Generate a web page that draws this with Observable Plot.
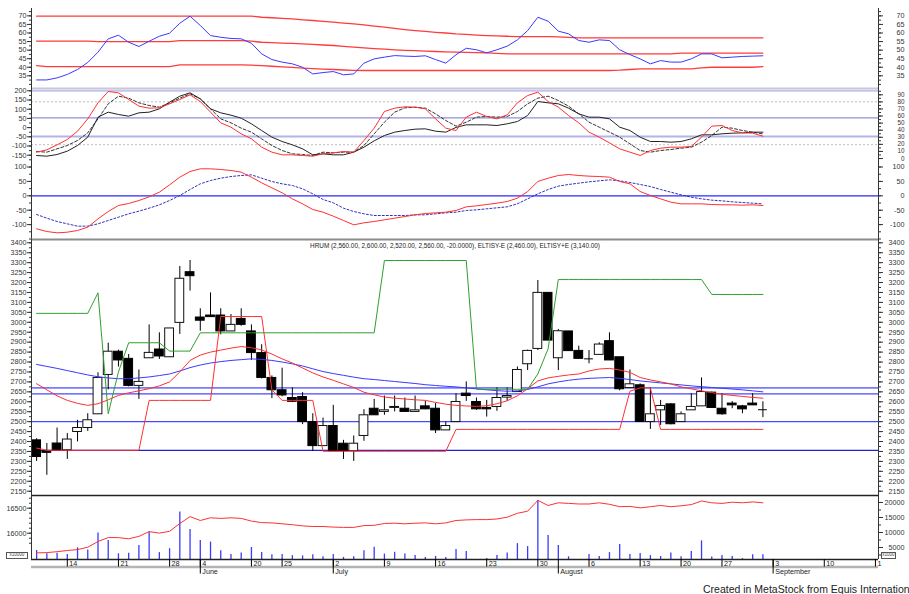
<!DOCTYPE html>
<html><head><meta charset="utf-8">
<script src="https://cdn.jsdelivr.net/npm/d3@7"></script>
<script src="https://cdn.jsdelivr.net/npm/@observablehq/plot@0.6"></script>
<style>
body{margin:0;background:#fff;}
#wrap{position:relative;width:909px;height:594px;overflow:hidden;background:#fff;font-family:"Liberation Sans",Arial,sans-serif;}
#wrap svg{position:absolute;left:0;}
.footer{position:absolute;left:703px;top:583px;font-size:10.5px;line-height:12px;color:#222;white-space:nowrap;}
.box{position:absolute;border:1px solid #555;font-size:4.5px;line-height:4px;color:#444;text-align:center;overflow:hidden;}
</style></head>
<body><div id="wrap"></div>
<script>
// ---------------- DATA ----------------
const open = [2406,2350,2390,2356,2448,2468,2537,2735,2852,2816,
2680,2819,2863,2824,2997,3252,3024,3034,3034,2954,
3017,2954,2845,2720,2658,2619,2624,2498,2377,2478,
2389,2351,2428,2565,2549,2569,2565,2549,2577,2565,
2456,2498,2641,2599,2569,2574,2621,2649,2789,2866,
3148,2819,2954,2856,2818,2836,2905,2824,2669,2683,
2498,2557,2587,2498,2557,2577,2646,2565,2591,2577,
2591,2560];
const high = [2414,2390,2468,2440,2507,2540,2746,2895,2860,2838,
2760,2987,2947,2969,3281,3311,3068,3148,3068,3039,
3068,2987,2887,2730,2769,2670,2646,2540,2518,2582,
2406,2428,2560,2612,2629,2629,2619,2629,2602,2591,
2498,2641,2700,2619,2607,2670,2670,2775,2860,3210,
3150,2964,2954,2880,2858,2897,2947,2824,2760,2690,
2670,2607,2590,2549,2641,2720,2649,2641,2601,2582,
2641,2600];
const low = [2300,2230,2355,2310,2398,2451,2537,2660,2775,2675,
2612,2819,2813,2824,2939,3157,2955,3026,2937,2954,
2980,2808,2715,2616,2625,2596,2485,2351,2377,2351,
2310,2300,2401,2532,2532,2549,2549,2549,2560,2440,
2456,2498,2602,2557,2523,2552,2602,2649,2757,2858,
2908,2757,2855,2816,2791,2836,2808,2655,2669,2498,
2461,2481,2484,2498,2557,2577,2569,2532,2565,2540,
2582,2520];
const close = [2322,2343,2355,2410,2468,2507,2720,2852,2808,2680,
2700,2846,2828,2969,3219,3232,3008,3026,2954,2987,
2987,2845,2720,2658,2632,2600,2498,2377,2478,2351,
2351,2389,2532,2532,2557,2574,2549,2557,2562,2456,
2478,2599,2629,2562,2562,2619,2629,2760,2856,3148,
2908,2955,2855,2816,2816,2888,2808,2663,2688,2498,
2537,2579,2487,2537,2574,2649,2569,2537,2582,2562,
2582,2560];
const eltisyPlus = [3045,3045,3045,3045,3045,3045,3148,2540,2750,2897,
2897,2897,2897,2855,2855,2855,2947,2947,2947,2947,
2947,2947,2947,2947,2947,2947,2947,2947,2947,2947,
2947,2947,2947,2947,3311,3311,3311,3311,3311,3311,
3311,3311,3311,2663,2663,2663,2663,2663,2663,2740,
2866,3215,3215,3215,3215,3215,3215,3215,3215,3215,
3215,3215,3215,3215,3215,3215,3140,3140,3140,3140,
3140,3140];
const eltisyMinus = [2367,2356,2356,2356,2356,2356,2356,2356,2356,2356,
2356,2607,2607,2607,2607,2607,2607,2607,3029,3029,
3029,3029,3029,2660,2607,2607,2607,2607,2351,2351,
2351,2351,2351,2351,2351,2351,2351,2351,2351,2351,
2351,2461,2461,2461,2461,2461,2461,2461,2461,2461,
2461,2461,2461,2461,2461,2461,2461,2461,2653,2670,
2670,2461,2461,2461,2461,2461,2461,2461,2461,2461,
2461,2461];
const maShort = [2691,2660,2630,2607,2592,2582,2590,2610,2632,2645,
2655,2666,2680,2700,2750,2808,2835,2850,2860,2870,
2878,2872,2861,2840,2816,2795,2770,2745,2725,2708,
2690,2672,2648,2635,2624,2618,2614,2610,2607,2597,
2588,2582,2579,2577,2580,2590,2605,2630,2666,2705,
2720,2728,2735,2740,2755,2765,2768,2760,2748,2722,
2710,2700,2690,2675,2665,2655,2646,2638,2632,2627,
2622,2618];
const maLong = [2788,2778,2768,2757,2746,2735,2726,2720,2716,2716,
2720,2725,2732,2740,2755,2772,2785,2795,2802,2808,
2812,2816,2813,2808,2800,2791,2780,2766,2752,2742,
2733,2724,2716,2712,2707,2702,2697,2692,2686,2682,
2678,2675,2670,2665,2660,2656,2653,2655,2662,2675,
2690,2700,2708,2714,2718,2720,2722,2718,2712,2705,
2700,2695,2690,2685,2680,2676,2672,2668,2664,2660,
2655,2650];
const priceLevels = [2670, 2640, 2500, 2355];

const rsi = [32.6,32.6,33.8,35.8,38.7,42.8,48.8,56.6,58.7,54.6,
52.1,55.2,58.1,59.9,65.7,69.8,64.4,58.5,57.5,56.8,
56.6,54.0,47.8,44.5,43.0,42.0,40.0,36.1,36.9,37.5,
35.6,36.1,42.4,44.9,45.9,46.8,46.5,46.3,46.7,44.5,
42.4,47.3,51.1,50.2,48.4,50.2,52.3,56.0,61.4,69.2,
66.9,61.1,59.5,55.6,54.6,56.0,55.6,50.2,47.4,44.9,
42.0,43.9,43.0,43.0,44.9,47.8,47.8,45.5,45.9,46.3,
46.5,46.7];
const rsiUpper = [69.8,69.8,69.8,69.8,69.8,69.8,69.8,69.8,69.8,69.8,
69.8,69.8,69.8,69.8,69.8,69.8,69.8,69.8,69.8,69.8,
69.8,69.8,69.2,68.9,68.5,68.2,67.7,67.3,66.8,66.3,
65.8,65.3,64.7,64.0,63.4,62.7,62.0,61.4,60.9,60.4,
60.0,59.5,59.2,58.8,58.5,58.3,58.1,57.9,57.9,57.9,
57.9,57.7,57.4,57.2,57.2,57.2,57.2,57.2,57.2,57.2,
57.2,57.2,57.2,57.2,57.2,57.2,57.2,57.2,57.2,57.2,
57.2,57.2];
const rsiMiddle = [55.2,55.2,55.2,55.2,55.2,55.2,55.0,55.0,55.0,55.0,
55.0,55.0,55.0,55.0,55.6,55.6,55.6,55.6,55.6,55.6,
55.6,55.2,54.6,54.4,54.1,53.9,53.7,53.3,53.0,52.7,
52.2,51.8,51.3,50.9,50.6,50.2,49.9,49.7,49.4,49.2,
49.0,48.8,48.7,48.6,48.4,48.1,47.8,47.8,47.8,47.8,
47.8,47.8,47.8,47.8,47.8,47.8,47.8,47.8,47.8,47.8,
47.8,47.8,47.8,48.3,48.3,48.3,48.3,48.3,48.3,48.3,
48.3,48.3];
const rsiLower = [41.0,40.4,40.4,40.4,40.4,40.4,40.4,40.4,40.4,40.4,
40.4,40.4,40.4,40.4,41.4,41.4,41.4,41.4,41.4,41.4,
41.4,41.2,40.9,40.6,40.2,39.9,39.5,39.2,38.9,38.7,
38.4,38.2,38.1,38.1,38.1,38.1,38.1,38.1,38.1,38.1,
38.1,38.1,38.1,38.1,38.1,38.1,38.1,38.1,38.1,38.1,
38.1,38.1,38.1,38.1,38.1,38.1,38.1,38.3,38.7,39.0,
39.1,39.1,39.1,39.1,39.1,39.6,40.0,40.0,40.0,40.0,
40.0,40.4];

const oscRed = [-133.5,-120.9,-93.7,-64.7,-19.4,47.6,134.6,196.2,189.0,152.7,
116.5,105.6,107.4,129.2,152.7,178.1,141.8,83.9,25.9,2.3,
-33.9,-61.1,-106.4,-133.5,-148,-148,-151.7,-155.3,-142.6,-137.2,
-129.9,-133.5,-70.1,-3.1,87.5,105.6,112.9,111.0,102.0,47.6,
-3.1,-16,56.7,83.9,60.3,47.6,69.4,134.6,174.4,192.6,
141.8,111.0,65.7,25.9,-24.8,-52.0,-82.8,-115.4,-133.5,-151.7,
-124.5,-111.8,-106.4,-106.4,-102.7,-52.0,7.8,11.4,-15.8,-28.5,
-30.3,-46.6];
const oscBlack = [-151.7,-155.3,-146.2,-128.1,-97.3,-52.0,56.7,83.9,71.2,62.1,
80.2,83.9,102.0,138.2,170.8,189.0,156.3,102.0,80.2,67.6,
51.2,20.5,-15.8,-52.0,-75.6,-93.7,-115.4,-148.0,-142.6,-148,
-148,-133.5,-106.4,-72.0,-43.0,-24.8,-15.8,-8.5,-6.7,-19.4,
-24.8,1,15,15,15,11.4,20.5,33.1,65.7,141.8,
134.6,129.2,105.6,74.8,56.7,56.7,47.6,2.3,-15.8,-52.0,
-75.6,-75.6,-79.2,-75.6,-61.1,-39.3,-39.3,-33.9,-30.3,-28.5,
-24.8,-24.8];
const oscDashed = [-129.9,-133.5,-115.4,-97.3,-70.1,-28.5,47.6,129.2,170.8,160.0,
134.6,120.1,111.0,134.6,160.0,183.5,156.3,102.0,47.6,25.9,
-3.1,-24.8,-61.1,-97.3,-124.5,-142.6,-146.2,-151.7,-133.5,-137.2,
-133.5,-133.5,-97.3,-33.9,29.5,83.9,107.4,111.0,105.6,74.8,
38.6,8,29.5,56.7,60.3,56.7,60.3,87.5,129.2,160.0,
170.8,147.3,116.5,74.8,29.5,2.3,-24.8,-52.0,-88.2,-124.5,
-133.5,-124.5,-119.1,-111.8,-106.4,-79.2,-43.0,2.3,-3.1,-15.8,
-24.8,-33.9];
const oscLevels = [200, 140, 53, -48, -93];

const macd = [-114.7,-124,-128.6,-126.3,-120.5,-108.9,-80,-54.5,-33.7,-26.7,
-16.3,-3.6,12.6,38.1,64.7,84.4,93.7,93.7,91.3,87.9,
82.1,64.7,45.0,27.7,10.3,-10.5,-27.9,-47.6,-56.8,-70.7,
-85.7,-100.8,-93.8,-89.2,-83.4,-77.6,-71.9,-66.1,-61.4,-59.1,
-56.8,-51,-38.3,-34.8,-30.2,-25.6,-19.8,-8.2,14.9,49.7,
61.2,70.5,74.0,70.5,68.2,67.0,64.7,49.7,41.6,15.0,
1.1,-10.5,-22.1,-27.9,-27.9,-27.9,-30.2,-31.3,-31.3,-32.5,
-31.3,-33.7];
const signal = [-64.9,-77.6,-89.2,-97.3,-105.4,-105.4,-97.3,-85.7,-74.2,-62.6,
-53.3,-42.9,-31.3,-16.3,1.1,21.9,41.6,53.1,61.2,67.0,
70.5,72.8,61.2,49.7,41.6,35.8,24.2,6.8,-12.8,-24.4,
-42.9,-54.5,-62.6,-68.4,-68.4,-68.4,-68.4,-66.1,-66.1,-62.6,
-59.1,-56.8,-51,-48.7,-45.2,-41.7,-38.3,-27.9,-10.5,6.8,
21.9,33.5,39.3,43.9,48.5,52.0,55.5,52.0,46.2,39.3,
32.3,21.9,12.6,3.4,-4.7,-10.5,-15.1,-17.5,-20.9,-23.3,
-25.6,-27.9];

const volume = [4000,2900,3100,2700,4900,4200,9800,7300,2900,3100,
5700,10100,3300,4600,16800,11000,7300,6800,3900,2700,
3200,5000,3300,2600,2700,2300,2200,2600,1900,2700,
1700,1900,3900,5100,2800,3400,2800,2300,1700,2000,
1700,4300,3700,0,1300,2300,3200,6300,5300,20700,
9000,5700,1900,0,2700,2000,3300,6000,2700,3000,
2300,2000,3200,1900,3700,7200,1800,2300,2000,1300,
2600,2600];
const volumeMA = [3200,3300,3600,4000,4300,5100,7000,8300,8300,7900,
8700,10300,9800,10400,13000,15300,14000,14900,14700,14900,
14700,13800,13300,13200,12900,12600,12200,12000,12000,11800,
11700,11700,12300,12400,13000,13100,12900,13100,13200,12900,
13200,14000,14200,14300,14300,14500,15100,16400,17100,20700,
19000,19900,19700,19500,19500,19900,19400,18600,18700,18200,
18600,19000,18600,18900,19300,20500,19900,19700,20100,19900,
20200,19900];

const dayTickIdx = [3,8,13,16,21,24,29,34,39,44,49,54,59,63,67,72,77,82];
const dayTickLabels = ["14","21","28","4","20","25","2","9","16","23","30","6","13","20","27","3","10","1"];
const monthTickIdx = [16,29,51,72];
const monthTickLabels = ["June","July","August","September"];

const rsiTicks = [35,40,45,50,55,60,65,70];
const oscTicks = [-150,-100,-50,0,50,100,150,200];
const stochTicks = [0,10,20,30,40,50,60,70,80,90];
const macdTicks = [-100,-50,0,50,100];
const priceTicks = [2150,2200,2250,2300,2350,2400,2450,2500,2550,2600,2650,2700,2750,2800,2850,2900,2950,3000,3050,3100,3150,3200,3250,3300,3350,3400];
const volTicksRight = [5000,10000,15000,20000];
const volTicksLeft = [16000,16500];

const headerText = "HRUM (2,560.00, 2,600.00, 2,520.00, 2,560.00, -20.0000), ELTISY-E (2,460.00), ELTISY+E (3,140.00)";
const footerText = "Created in MetaStock from Equis International";

// ---------------- BUILD ----------------
const rows = open.map((o, i) => ({i, o, h: high[i], l: low[i], c: close[i]}));
const bodies = rows.filter(d => Math.abs(d.o - d.c) >= 4);
const dojis = rows.filter(d => Math.abs(d.o - d.c) < 4);
const ups = bodies.filter(d => d.c > d.o);
const downs = bodies.filter(d => d.c < d.o);

const XD = [-0.5, 82.3];
const P1D = [27.6, 74.3], P2D = [-178.8, 212.5], P2R = [-2.8, 98.9], P3D = [-151.7, 122.6];
const P4D = [2128.4, 3416.6], P5D = [1000, 22333], P5L = [15474, 16754];
const wrap = document.getElementById("wrap");
const FONT = '"Liberation Sans", Arial, sans-serif';
const idx = (d, i) => i;
const val = d => d;

function panel(top, h, yDomain, marks, opt = {}) {
  const svg = Plot.plot({
    width: 909, height: h,
    marginLeft: 31, marginRight: 31, marginTop: opt.mt ?? 8, marginBottom: opt.mb ?? 8,
    x: {domain: XD, axis: null},
    y: {domain: yDomain, label: null, reverse: !!opt.reverse, ...(opt.noAxis ? {axis: null} : {})},
    style: {background: "transparent", overflow: "visible", fontFamily: FONT, fontSize: "7.2px", color: "#333"},
    marks
  });
  svg.style.position = "absolute";
  svg.style.left = "0px";
  svg.style.top = top + "px";
  wrap.appendChild(svg);
}
function minorOf(ticks, step) {
  const lo = ticks[0] - step * 2, hi = ticks[ticks.length - 1] + step * 2;
  return d3.range(lo, hi + step / 2, step);
}
function axes(ticks, step, {left = true, right = true, domain, fontSize = 7.2} = {}) {
  const minor = minorOf(ticks, step).filter(v => v >= domain[0] && v <= domain[1]);
  const fmt = d => String(d);
  const out = [];
  if (left) out.push(
    Plot.axisY(minor, {anchor: "left", tickSize: 2, tickFormat: () => "", fill: "none", label: null}),
    Plot.axisY(ticks, {anchor: "left", tickSize: 4, tickPadding: 1, tickFormat: fmt, fontSize, label: null})
  );
  if (right) out.push(
    Plot.axisY(minor, {anchor: "right", tickSize: 2, tickFormat: () => "", fill: "none", label: null}),
    Plot.axisY(ticks, {anchor: "right", tickSize: 4, tickPadding: 22, textAnchor: "end", tickFormat: fmt, fontSize, label: null})
  );
  return out;
}
const borders = () => Plot.ruleX(XD, {stroke: "#333", strokeWidth: 1});

// P1: RSI with bands
panel(0, 96, P1D, [
  Plot.line(rsiUpper, {x: idx, y: val, stroke: "#ff3b3b", strokeWidth: 1.3}),
  Plot.line(rsiMiddle, {x: idx, y: val, stroke: "#ff3b3b", strokeWidth: 1.3}),
  Plot.line(rsiLower, {x: idx, y: val, stroke: "#ff3b3b", strokeWidth: 1.3}),
  Plot.line(rsi, {x: idx, y: val, stroke: "#3a3aff", strokeWidth: 1}),
  Plot.ruleY([P1D[0]], {stroke: "#c8c8dc", strokeWidth: 2}),
  borders(),
  ...axes(rsiTicks, 2.5, {domain: P1D})
]);

// P2: oscillator
panel(80, 88, P2D, [
  Plot.ruleY([oscLevels[0]], {stroke: "#c4c4ec", strokeWidth: 2}),
  Plot.ruleY([oscLevels[1]], {stroke: "#bdbdbd", strokeDasharray: "2,2"}),
  Plot.ruleY([oscLevels[2]], {stroke: "#9090dc", strokeWidth: 1.2}),
  Plot.ruleY([oscLevels[3]], {stroke: "#b4b4e8", strokeWidth: 2}),
  Plot.ruleY([oscLevels[4]], {stroke: "#bdbdbd", strokeDasharray: "2,2"}),
  Plot.line(oscDashed, {x: idx, y: val, stroke: "#333", strokeWidth: 1, strokeDasharray: "3,2"}),
  Plot.line(oscBlack, {x: idx, y: val, stroke: "#222", strokeWidth: 1}),
  Plot.line(oscRed, {x: idx, y: val, stroke: "#ff3030", strokeWidth: 1}),
  borders(),
  ...axes(oscTicks, 25, {right: false, domain: P2D})
]);
panel(80, 88, P2R, [
  ...axes(stochTicks, 5, {left: false, domain: P2R, fontSize: 6.3})
]);

// P3: MACD-like
panel(152, 95, P3D, [
  Plot.ruleY([0], {stroke: "#2a2aff", strokeWidth: 1.3}),
  Plot.line(signal, {x: idx, y: val, stroke: "#3030c0", strokeWidth: 1, strokeDasharray: "2,2"}),
  Plot.line(macd, {x: idx, y: val, stroke: "#ff3030", strokeWidth: 1}),
  borders(),
  ...axes(macdTicks, 25, {domain: P3D})
]);

// P4: price
panel(231, 272, P4D, [
  Plot.ruleY([priceLevels[0]], {stroke: "#7a7aff", strokeWidth: 1.6}),
  Plot.ruleY([priceLevels[1]], {stroke: "#4848ff", strokeWidth: 1.2}),
  Plot.ruleY([priceLevels[2]], {stroke: "#4848ff", strokeWidth: 1.2}),
  Plot.ruleY([priceLevels[3]], {stroke: "#2020d0", strokeWidth: 1.2}),
  Plot.ruleX(rows, {x: "i", y1: "l", y2: "h", stroke: "#000", strokeWidth: 1}),
  Plot.rect(downs, {x1: d => d.i - 0.43, x2: d => d.i + 0.43, y1: "o", y2: "c", fill: "#000", stroke: "#000", strokeWidth: 1}),
  Plot.rect(ups, {x1: d => d.i - 0.43, x2: d => d.i + 0.43, y1: "o", y2: "c", fill: "#fff", stroke: "#111", strokeWidth: 1}),
  Plot.ruleY(dojis, {y: "c", x1: d => d.i - 0.43, x2: d => d.i + 0.43, stroke: "#000", strokeWidth: 1}),
  Plot.line(maLong, {x: idx, y: val, stroke: "#3a3aff", strokeWidth: 1}),
  Plot.line(maShort, {x: idx, y: val, stroke: "#ff3030", strokeWidth: 1}),
  Plot.line(eltisyPlus, {x: idx, y: val, stroke: "#2ea02e", strokeWidth: 1}),
  Plot.line(eltisyMinus, {x: idx, y: val, stroke: "#ff3030", strokeWidth: 1}),
  Plot.text([headerText], {frameAnchor: "top", dy: 4, text: val, fontSize: 6.4, fill: "#222"}),
  Plot.ruleY([P4D[1]], {stroke: "#8c8c8c", strokeWidth: 2}),
  Plot.ruleY([P4D[0]], {stroke: "#222", strokeWidth: 1.3}),
  borders(),
  ...axes(priceTicks, 25, {domain: P4D})
]);

// P5: volume
panel(487, 80, P5D, [
  Plot.ruleX(volume, {x: idx, y1: 0, y2: val, stroke: "#3b3bff", strokeWidth: 1.3, clip: true}),
  Plot.line(volumeMA, {x: idx, y: val, stroke: "#ff3030", strokeWidth: 1}),
  Plot.ruleY([P5D[0]], {stroke: "#222", strokeWidth: 1.3}),
  borders(),
  ...axes(volTicksRight, 2500, {left: false, domain: P5D})
]);
panel(487, 80, P5L, [
  ...axes(volTicksLeft, 100, {right: false, domain: P5L})
]);

// P6: date axis
const dayRows = dayTickIdx.map((i, k) => ({i, label: dayTickLabels[k]}));
const monthRows = monthTickIdx.map((i, k) => ({i, label: monthTickLabels[k]}));
panel(551, 36, [0, 20], [
  Plot.ruleY([7.6], {stroke: "#b4b4b4", strokeWidth: 2.5}),
  Plot.ruleX(dayRows, {x: "i", y1: 0, y2: 7.5, stroke: "#000"}),
  Plot.ruleX(monthRows, {x: "i", y1: 0, y2: 14.5, stroke: "#000"}),
  Plot.text(dayRows, {x: "i", y: 4.2, text: "label", textAnchor: "start", dx: 2, fontSize: 7.2, fill: "#222"}),
  Plot.text(monthRows, {x: "i", y: 12, text: "label", textAnchor: "start", dx: 2, fontSize: 7.2, fill: "#222"})
], {reverse: true, noAxis: true});

// extras
const lb = document.createElement("div");
lb.className = "box"; lb.style.left = "6px"; lb.style.top = "552px"; lb.style.width = "20px"; lb.style.height = "5px";
lb.textContent = "x10000"; wrap.appendChild(lb);
const rb = document.createElement("div");
rb.className = "box"; rb.style.left = "881px"; rb.style.top = "552px"; rb.style.width = "13px"; rb.style.height = "5px";
rb.textContent = "x1000"; wrap.appendChild(rb);
const ft = document.createElement("div");
ft.className = "footer"; ft.textContent = footerText; wrap.appendChild(ft);
</script>
</body></html>
